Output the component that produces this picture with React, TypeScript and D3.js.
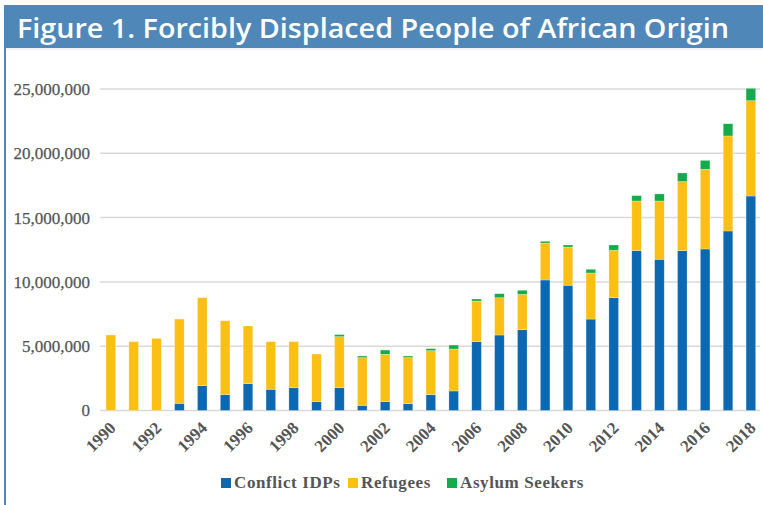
import * as d3 from "d3";

const W = 763;
const H = 505;

const YEARS = d3.range(1990, 2019).map(String);

// values in millions
const IDPS = [
  0, 0, 0, 0.56, 1.93, 1.23, 2.09, 1.65, 1.77, 0.69, 1.77, 0.4, 0.69, 0.53, 1.23,
  1.52, 5.35, 5.87, 6.28, 10.15, 9.74, 7.11, 8.77, 12.43, 11.76, 12.43, 12.56,
  13.96, 16.68,
];
const REFUGEES = [
  5.87, 5.35, 5.61, 6.55, 6.84, 5.75, 4.48, 3.7, 3.58, 3.7, 3.97, 3.71, 3.68,
  3.58, 3.42, 3.26, 3.16, 2.9, 2.75, 2.87, 2.97, 3.58, 3.69, 3.86, 4.53, 5.37,
  6.2, 7.39, 7.41,
];
const ASYLUM = [
  0, 0, 0, 0, 0, 0, 0, 0, 0, 0, 0.16, 0.13, 0.33, 0.13, 0.16, 0.31, 0.16, 0.31,
  0.32, 0.14, 0.16, 0.29, 0.41, 0.42, 0.55, 0.67, 0.69, 0.95, 0.96,
];

const SERIES = ["Conflict IDPs", "Refugees", "Asylum Seekers"];
const COLORS = ["#0B68B1", "#FCBF14", "#14AB4A"];
const Y_TICKS = [0, 5e6, 10e6, 15e6, 20e6, 25e6];

const BANNER = "#4F88B8";
const TEXT = "#555555";
const SERIF = "'Liberation Serif', 'Times New Roman', serif";

export default function App() {
  const rows = YEARS.map((year, i) => ({
    year,
    "Conflict IDPs": IDPS[i] * 1e6,
    Refugees: REFUGEES[i] * 1e6,
    "Asylum Seekers": ASYLUM[i] * 1e6,
  }));

  const stacked = d3.stack<any>().keys(SERIES)(rows);

  const x = d3
    .scaleBand<string>()
    .domain(YEARS)
    .range([99.4, 762.3])
    .paddingInner(0.58)
    .paddingOuter(0.29);

  const y = d3.scaleLinear().domain([0, 25e6]).range([410.5, 89]);
  const fmt = d3.format(",");

  const legendX = [221, 348, 447];

  return (
    <svg
      width={W}
      height={H}
      style={{ position: "absolute", left: 0, top: 0, background: "#fff" }}
    >
      {/* banner and frame */}
      <rect x={4} y={5} width={W - 4} height={43} fill={BANNER} />
      <rect x={4} y={48} width={2} height={H - 48} fill={BANNER} />
      <line x1={6} x2={W} y1={49} y2={49} stroke="#E4E9EF" strokeWidth={1} />
      <text
        x={17}
        y={38}
        fill="#fff"
        fontFamily="'Open Sans', sans-serif"
        fontWeight={600}
        fontSize={27}
        textLength={712}
        lengthAdjust="spacingAndGlyphs"
      >
        Figure 1. Forcibly Displaced People of African Origin
      </text>

      {/* grid */}
      <g>
        {Y_TICKS.map((t) => (
          <g key={t}>
            <line
              x1={100}
              x2={760}
              y1={y(t)}
              y2={y(t)}
              stroke="#D9D9D9"
              strokeWidth={1.5}
            />
            <text
              x={90}
              y={y(t)}
              dy="0.35em"
              textAnchor="end"
              fill={TEXT}
              fontFamily={SERIF}
              fontSize={17}
              stroke={TEXT}
              strokeWidth={0.25}
            >
              {fmt(t)}
            </text>
          </g>
        ))}
      </g>

      {/* bars */}
      {stacked.map((layer, si) => (
        <g key={SERIES[si]} fill={COLORS[si]}>
          {layer.map((d, i) =>
            d[1] - d[0] > 0 ? (
              <rect
                key={YEARS[i]}
                x={x(YEARS[i])}
                y={y(d[1])}
                width={x.bandwidth()}
                height={y(d[0]) - y(d[1])}
                stroke="#ffffff"
                strokeOpacity={0.45}
                strokeWidth={0.6}
              />
            ) : null
          )}
        </g>
      ))}

      {/* x labels */}
      {YEARS.filter((_, i) => i % 2 === 0).map((yr) => {
        const cx = (x(yr) ?? 0) + x.bandwidth() / 2 + 6;
        const cy = 429;
        return (
          <text
            key={yr}
            transform={`translate(${cx},${cy}) rotate(-45)`}
            textAnchor="end"
            fill={TEXT}
            fontFamily={SERIF}
            fontWeight={700}
            fontSize={17}
          >
            {yr}
          </text>
        );
      })}

      {/* legend */}
      {SERIES.map((s, i) => (
        <g key={s} transform={`translate(${legendX[i]},478)`}>
          <rect width={10} height={10} fill={COLORS[i]} />
          <text
            x={13}
            y={10}
            fill={TEXT}
            fontFamily={SERIF}
            fontWeight={700}
            fontSize={17}
            letterSpacing={0.6}
          >
            {s}
          </text>
        </g>
      ))}
    </svg>
  );
}
